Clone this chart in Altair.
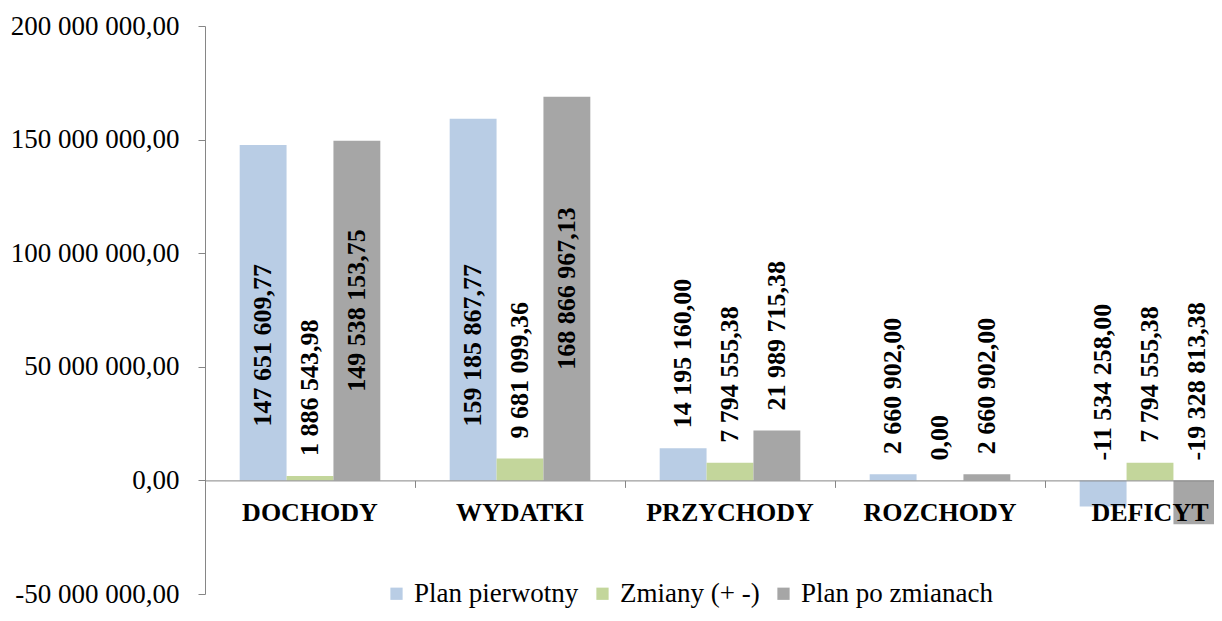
import altair as alt
import pandas as pd

categories = ["DOCHODY", "WYDATKI", "PRZYCHODY", "ROZCHODY", "DEFICYT"]
series = ["Plan pierwotny", "Zmiany (+ -)", "Plan po zmianach"]
plan_pierwotny = [147651609.77, 159185867.77, 14195160.00, 2660902.00, -11534258.00]
zmiany = [1886543.98, 9681099.36, 7794555.38, 0.00, 7794555.38]
plan_po_zmianach = [149538153.75, 168866967.13, 21989715.38, 2660902.00, -19328813.38]
y_ticks = [-50000000, 0, 50000000, 100000000, 150000000, 200000000]
colors = ["#B9CDE5", "#C3D69B", "#A6A6A6"]

rows = []
for i, c in enumerate(categories):
    for s, vals in zip(series, [plan_pierwotny, zmiany, plan_po_zmianach]):
        v = vals[i]
        if s == series[0] and v > 50000000:
            mode = "base"
        elif s == series[2] and v > 50000000:
            mode = "center"
        else:
            mode = "outside"
        rows.append({"cat": c, "series": s, "value": v, "mode": mode,
                     "top": max(v, 0), "half": v / 2})
df = pd.DataFrame(rows)

FONT = "Liberation Serif"
AX = "#868686"
H = 568
W = 1009
STEP = 210
zero_from_bottom = H * 50000000 / 250000000

xenc = alt.X("cat:N", sort=categories, title=None,
             scale=alt.Scale(range=[0, STEP * len(categories)], paddingInner=0, paddingOuter=0),
             axis=alt.Axis(orient="bottom", offset=-zero_from_bottom, bandPosition=0,
                           labelFont=FONT, labelFontSize=26, labelFontWeight="bold",
                           labelColor="black", labelPadding=12, tickSize=7,
                           tickColor=AX, domainColor=AX, labelAngle=0, zindex=1))
xoff = alt.XOffset("series:N", sort=series,
                   scale=alt.Scale(paddingInner=0, paddingOuter=0.74))

base = alt.Chart(df)

bars = base.mark_bar().encode(
    x=xenc,
    xOffset=xoff,
    y=alt.Y("value:Q", title=None,
            scale=alt.Scale(domain=[-50000000, 200000000], nice=False, zero=False),
            axis=alt.Axis(values=y_ticks, format=",.2f", grid=False,
                          labelFont=FONT, labelFontSize=27, labelColor="black",
                          labelPadding=19, tickSize=7, tickColor=AX, domainColor=AX)),
    color=alt.Color("series:N", sort=series,
                    scale=alt.Scale(domain=series, range=colors),
                    legend=alt.Legend(orient="none", direction="horizontal", title=None,
                                      legendX=178, legendY=554,
                                      symbolType="square", symbolSize=150,
                                      symbolStrokeWidth=0, labelFont=FONT,
                                      labelFontSize=27, labelColor="black",
                                      labelLimit=0, labelOffset=4, columnPadding=10)),
)

def labels(mode, yfield, align, dx):
    return base.transform_filter(alt.datum.mode == mode).mark_text(
        angle=270, align=align, baseline="middle", dx=dx,
        font=FONT, fontSize=26, fontWeight="bold", color="black"
    ).encode(
        x=alt.X("cat:N", sort=categories),
        xOffset=alt.XOffset("series:N", sort=series),
        y=alt.Y(yfield + ":Q"),
        text=alt.Text("value:Q", format=",.2f"),
    )

chart = alt.layer(
    bars,
    labels("outside", "top", "left", 20),
    labels("base", "top", "left", 54).encode(y=alt.datum(0)),
    labels("center", "half", "center", 0),
).properties(
    width=W, height=H,
    autosize=alt.AutoSizeParams(type="none"),
    padding={"left": 197, "top": 18, "right": 0, "bottom": 14},
).configure(
    font=FONT,
    locale={"number": {"decimal": ",", "thousands": " ", "grouping": [3],
                       "currency": ["", ""], "minus": "-"}},
).configure_view(stroke=None).configure_legend(labelFont=FONT)

chart.save("out.html", embed_options={"renderer": "svg", "actions": False})
